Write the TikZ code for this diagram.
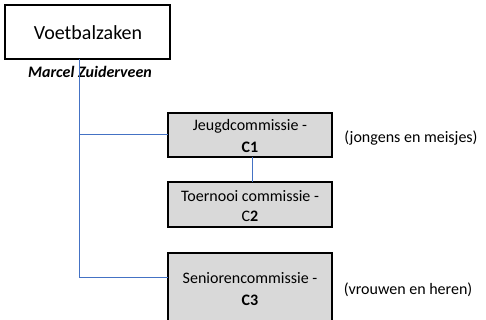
\documentclass[tikz,border=0pt]{standalone}
\usepackage{fontspec}
\setmainfont{Carlito}
\definecolor{connblue}{RGB}{68,114,196}
\definecolor{boxgray}{RGB}{217,217,217}
\begin{document}
\begin{tikzpicture}[x=1pt,y=-1pt,
  topbox/.style={draw=black,line width=1.6pt,fill=white,inner sep=0pt},
  combox/.style={draw=black,line width=1.2pt,fill=boxgray,inner sep=0pt},
  conn/.style={draw=connblue,line width=0.8pt},
  txt/.style={font=\fontsize{16}{21}\selectfont,align=center,inner sep=0pt}]
\useasboundingbox (0,0) rectangle (486,320);
\begin{scope}
\clip (0,0) rectangle (486,320);
\draw[topbox] (5,5) rectangle (170,59);
\coordinate (tb) at (79,59);
\draw[combox] (168,113) rectangle (332,157);
\draw[combox] (168,182) rectangle (332,227);
\draw[combox] (168,253) rectangle (332,330);
\end{scope}
\node[txt,font=\fontsize{20}{23}\selectfont] (vz) at (88,33) {Voetbalzaken};
\node[txt,font=\fontsize{16}{19}\selectfont\bfseries\itshape] (mz) at (90,72) {Marcel Zuiderveen};
\node[txt] (j1) at (250,126) {Jeugdcommissie -};
\node[txt] (j2) at (250,147) {\bfseries C1};
\node[txt] (t1) at (250,196) {Toernooi commissie -};
\node[txt] (t2) at (250,216) {C\textbf{2}};
\node[txt] (s1) at (250,278) {Seniorencommissie -};
\node[txt] (s2) at (250,300) {\bfseries C3};
\node[txt] (jm) at (411,138) {(jongens en meisjes)};
\node[txt] (vh) at (408,290) {(vrouwen en heren)};
\coordinate (jl) at (168,134);
\coordinate (sl) at (168,277);
\coordinate (jb) at (252,157);
\coordinate (tt) at (252,182);
\draw[conn] (tb) -- (79,277) -- (sl);
\draw[conn] (79,134) -- (jl);
\draw[conn] (jb) -- (tt);
\end{tikzpicture}
\end{document}
